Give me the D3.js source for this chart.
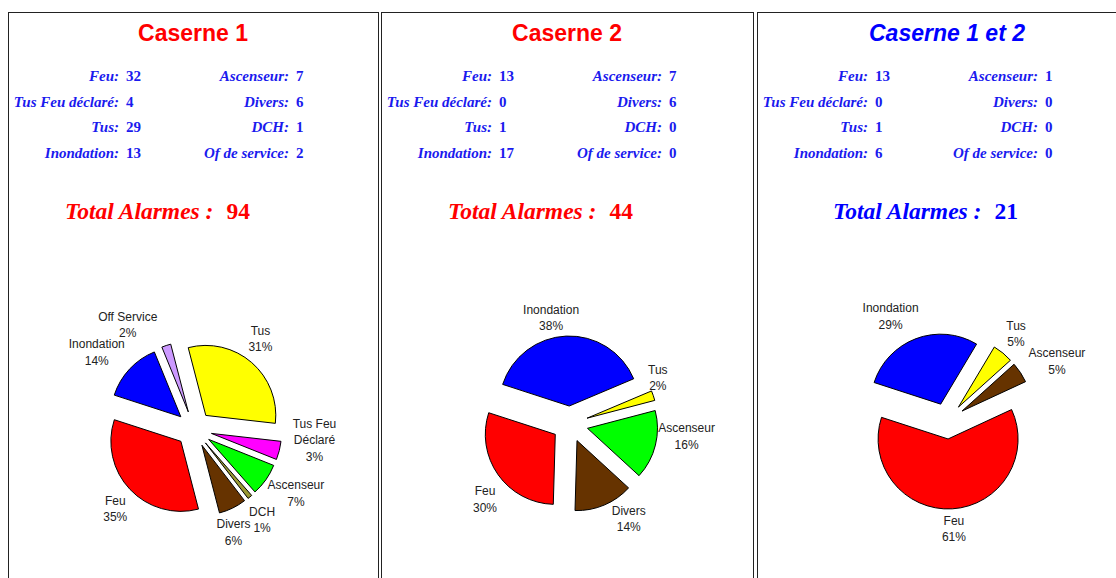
<!DOCTYPE html>
<html>
<head>
<meta charset="utf-8">
<script src="https://cdn.jsdelivr.net/npm/d3@7"></script>
<style>
  body { margin: 0; background: #fff; }
</style>
</head>
<body>
<div id="chart"></div>
<script>
// --- data ---
const casernes = ["Caserne 1", "Caserne 2", "Caserne 1 et 2"];
const statLabels = ["Feu", "Tus Feu déclaré", "Tus", "Inondation", "Ascenseur", "Divers", "DCH", "Of de service"];
const statsC1 = [32, 4, 29, 13, 7, 6, 1, 2];
const statsC2 = [13, 0, 1, 17, 7, 6, 0, 0];
const statsC3 = [13, 0, 1, 6, 1, 0, 0, 0];
const totals = [94, 44, 21];

// pie slices, counter-clockwise order as drawn
const pieCategories = ["Feu", "Divers", "DCH", "Ascenseur", "Tus Feu Déclaré", "Tus", "Off Service", "Inondation"];
const pieFromStat = [0, 5, 6, 4, 1, 2, 7, 3];
const pctC1 = [35, 6, 1, 7, 3, 31, 2, 14];
const pctC2 = [30, 14, 0, 16, 0, 2, 0, 38];
const pctC3 = [61, 0, 0, 5, 0, 5, 0, 29];
const colorsC1 = ["#ff0000", "#663300", "#999933", "#00ff00", "#ff00ff", "#ffff00", "#cc99ff", "#0000ff"];
const colorsC2 = ["#ff0000", "#663300", "#999933", "#00ff00", "#ff00ff", "#ffff00", "#cc99ff", "#0000ff"];
const colorsC3 = ["#ff0000", "#663300", "#999933", "#663300", "#ff00ff", "#ffff00", "#cc99ff", "#0000ff"];

const allStats = [statsC1, statsC2, statsC3];
const allPct = [pctC1, pctC2, pctC3];
const allColors = [colorsC1, colorsC2, colorsC3];

// --- layout ---
const W = 1116, H = 578;
const panels = [
    {x: 8, w: 370, cx: 194, cy: 429, totalX: 65, titleColor: "#ff0000", textColor: "#ff0000", italic: false},
    {x: 381, w: 372, cx: 570, cy: 424, totalX: 448, titleColor: "#ff0000", textColor: "#ff0000", italic: false},
    {x: 757, w: 380, cx: 947, cy: 421, totalX: 833, titleColor: "#0000ff", textColor: "#0000ff", italic: true}
];
// small label shifts so the pie labels sit where the reference puts them
const labelNudge = [
    {"Off Service": [-30, 5], "Inondation": [-13, 2], "Tus": [-9, -3], "Tus Feu Déclaré": [9, -17],
     "Ascenseur": [8, -2], "DCH": [-5, 2], "Divers": [-11, 0], "Feu": [5, 1]},
    {"Inondation": [-14, 9], "Tus": [-21, -9], "Ascenseur": [5, -15], "Divers": [14, -11], "Feu": [9, 9]},
    {"Inondation": [-16, 3], "Tus": [-4, 2], "Ascenseur": [14, 4], "Feu": [0, -7]}
];
const radius = 70, explode = 18, labelR = 115;
const deg = Math.PI / 180;

const svg = d3.select("#chart").append("svg")
    .attr("width", W).attr("height", H)
    .style("display", "block");

const pie = d3.pie().sort(null).value(d => d.value)
    .startAngle(288 * deg).endAngle((288 - 360) * deg);
const arc = d3.arc().innerRadius(0).outerRadius(radius);

panels.forEach((p, i) => {
    const g = svg.append("g");

    g.append("rect")
        .attr("x", p.x + 0.5).attr("y", 12.5)
        .attr("width", p.w).attr("height", H + 20)
        .attr("fill", "none").attr("stroke", "#222").attr("stroke-width", 1);

    g.append("text")
        .attr("x", p.x + p.w / 2).attr("y", 41)
        .attr("text-anchor", "middle")
        .attr("font-family", "Liberation Sans, Arial, sans-serif")
        .attr("font-weight", "bold")
        .attr("font-style", p.italic ? "italic" : "normal")
        .attr("font-size", 23)
        .attr("fill", p.titleColor)
        .text(casernes[i]);

    // stats, two columns of four
    statLabels.forEach((lab, k) => {
        const col = Math.floor(k / 4), row = k % 4;
        const xr = p.x + (col === 0 ? 111 : 281);
        const y = 81 + row * 25.5;
        g.append("text")
            .attr("x", xr).attr("y", y)
            .attr("text-anchor", "end")
            .attr("font-family", "Liberation Serif, Times New Roman, serif")
            .attr("font-style", "italic").attr("font-weight", "bold")
            .attr("font-size", 15).attr("fill", "#1a1aee")
            .text(lab + ":");
        g.append("text")
            .attr("x", xr + 7).attr("y", y)
            .attr("font-family", "Liberation Serif, Times New Roman, serif")
            .attr("font-weight", "bold")
            .attr("font-size", 15).attr("fill", "#1a1aee")
            .text(allStats[i][k]);
    });

    const tot = g.append("text")
        .attr("x", p.totalX).attr("y", 219)
        .attr("font-family", "Liberation Serif, Times New Roman, serif")
        .attr("font-weight", "bold")
        .attr("font-size", 23.5).attr("fill", p.textColor);
    tot.append("tspan").attr("font-style", "italic").text("Total Alarmes :");
    tot.append("tspan").attr("dx", 13).text(totals[i]);

    // pie
    const data = pieCategories.map((c, k) => ({
        name: c, value: allStats[i][pieFromStat[k]], pct: allPct[i][k], color: allColors[i][k]
    }));
    const arcs = pie(data).filter(a => a.data.value > 0);
    const pg = g.append("g").attr("transform", `translate(${p.cx},${p.cy})`);

    arcs.forEach(a => {
        const mid = (a.startAngle + a.endAngle) / 2;
        const dx = Math.sin(mid) * explode, dy = -Math.cos(mid) * explode;
        pg.append("path")
            .attr("d", arc(a))
            .attr("transform", `translate(${dx},${dy})`)
            .attr("fill", a.data.color)
            .attr("stroke", "#000").attr("stroke-width", 1);

        const nudge = labelNudge[i][a.data.name] || [0, 0];
        const lx = Math.sin(mid) * labelR + nudge[0];
        const ly = -Math.cos(mid) * labelR + nudge[1];
        const lines = a.data.name === "Tus Feu Déclaré"
            ? ["Tus Feu", "Déclaré", a.data.pct + "%"]
            : [a.data.name, a.data.pct + "%"];
        const lh = 16.5;
        const t = pg.append("text")
            .attr("text-anchor", "middle")
            .attr("font-family", "Liberation Sans, Arial, sans-serif")
            .attr("font-size", 12).attr("fill", "#222");
        lines.forEach((ln, j) => {
            t.append("tspan")
                .attr("x", lx)
                .attr("y", ly + (j - (lines.length - 1) / 2) * lh + 4)
                .text(ln);
        });
    });
});
</script>
</body>
</html>
